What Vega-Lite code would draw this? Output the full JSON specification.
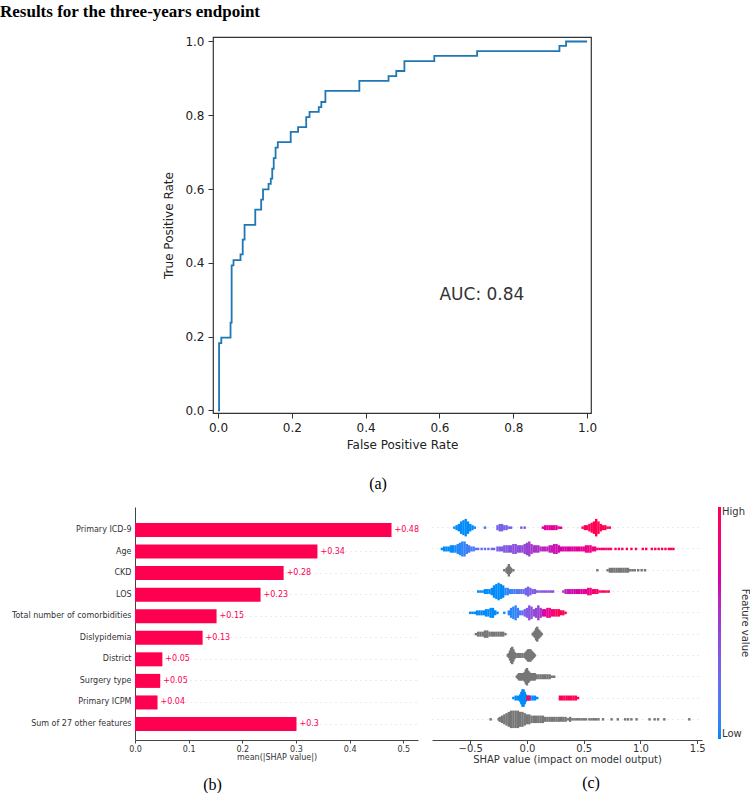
{
  "$schema": "https://vega.github.io/schema/vega-lite/v6.json",
  "padding": {"left": 0, "top": 2, "right": 0, "bottom": 0},
  "title": {"text": "Results for the three-years endpoint", "anchor": "start", "font": "Liberation Serif", "fontSize": 17, "fontWeight": "bold", "color": "#000000", "offset": 14},
  "config": {
    "font": "DejaVu Sans",
    "axis": {"labelFont": "DejaVu Sans", "titleFont": "DejaVu Sans", "titleFontWeight": "normal", "labelColor": "#222222", "titleColor": "#222222", "domainColor": "#333333", "tickColor": "#333333"},
    "legend": {"labelFont": "DejaVu Sans", "titleFont": "DejaVu Sans"}
  },
  "datasets": {
    "roc": [
      {"fpr": 0, "tpr": 0}, {"fpr": 0.003, "tpr": 0.182}, {"fpr": 0.009, "tpr": 0.197}, {"fpr": 0.034, "tpr": 0.238},
      {"fpr": 0.037, "tpr": 0.393}, {"fpr": 0.042, "tpr": 0.407}, {"fpr": 0.061, "tpr": 0.423}, {"fpr": 0.067, "tpr": 0.463},
      {"fpr": 0.072, "tpr": 0.503}, {"fpr": 0.101, "tpr": 0.544}, {"fpr": 0.117, "tpr": 0.571}, {"fpr": 0.122, "tpr": 0.599},
      {"fpr": 0.137, "tpr": 0.614}, {"fpr": 0.143, "tpr": 0.628}, {"fpr": 0.147, "tpr": 0.655}, {"fpr": 0.151, "tpr": 0.684},
      {"fpr": 0.156, "tpr": 0.712}, {"fpr": 0.162, "tpr": 0.727}, {"fpr": 0.197, "tpr": 0.755}, {"fpr": 0.217, "tpr": 0.768},
      {"fpr": 0.239, "tpr": 0.795}, {"fpr": 0.248, "tpr": 0.809}, {"fpr": 0.273, "tpr": 0.822}, {"fpr": 0.28, "tpr": 0.836},
      {"fpr": 0.291, "tpr": 0.866}, {"fpr": 0.383, "tpr": 0.893}, {"fpr": 0.462, "tpr": 0.906}, {"fpr": 0.483, "tpr": 0.92},
      {"fpr": 0.505, "tpr": 0.947}, {"fpr": 0.586, "tpr": 0.961}, {"fpr": 0.702, "tpr": 0.974}, {"fpr": 0.925, "tpr": 0.988},
      {"fpr": 0.943, "tpr": 1.0}, {"fpr": 1.0, "tpr": 1.0}
    ],
    "auc": [{"fpr": 0.6, "tpr": 0.3, "label": "AUC: 0.84"}],
    "importance": [
      {"feature": "Primary ICD-9", "meanAbs": 0.478},
      {"feature": "Age", "meanAbs": 0.34},
      {"feature": "CKD", "meanAbs": 0.277},
      {"feature": "LOS", "meanAbs": 0.234},
      {"feature": "Total number of comorbidities", "meanAbs": 0.152},
      {"feature": "Dislypidemia", "meanAbs": 0.126},
      {"feature": "District", "meanAbs": 0.051},
      {"feature": "Surgery type", "meanAbs": 0.047},
      {"feature": "Primary ICPM", "meanAbs": 0.042},
      {"feature": "Sum of 27 other features", "meanAbs": 0.301}
    ],
    "swarm": [
      {"feature": "Primary ICD-9", "shap": -0.64, "count": 1, "fval": 0},
      {"feature": "Primary ICD-9", "shap": -0.62, "count": 2, "fval": 0},
      {"feature": "Primary ICD-9", "shap": -0.6, "count": 3, "fval": 0},
      {"feature": "Primary ICD-9", "shap": -0.58, "count": 5, "fval": 0},
      {"feature": "Primary ICD-9", "shap": -0.56, "count": 6, "fval": 0},
      {"feature": "Primary ICD-9", "shap": -0.54, "count": 7, "fval": 0},
      {"feature": "Primary ICD-9", "shap": -0.52, "count": 5, "fval": 0},
      {"feature": "Primary ICD-9", "shap": -0.5, "count": 3, "fval": 0},
      {"feature": "Primary ICD-9", "shap": -0.48, "count": 2, "fval": 0},
      {"feature": "Primary ICD-9", "shap": -0.46, "count": 1, "fval": 0},
      {"feature": "Primary ICD-9", "shap": -0.37, "count": 1, "fval": 0.1},
      {"feature": "Primary ICD-9", "shap": -0.26, "count": 2, "fval": 0.3},
      {"feature": "Primary ICD-9", "shap": -0.24, "count": 3, "fval": 0.3},
      {"feature": "Primary ICD-9", "shap": -0.22, "count": 3, "fval": 0.3},
      {"feature": "Primary ICD-9", "shap": -0.2, "count": 2, "fval": 0.3},
      {"feature": "Primary ICD-9", "shap": -0.18, "count": 2, "fval": 0.3},
      {"feature": "Primary ICD-9", "shap": -0.16, "count": 1, "fval": 0.3},
      {"feature": "Primary ICD-9", "shap": -0.14, "count": 1, "fval": 0.3},
      {"feature": "Primary ICD-9", "shap": -0.05, "count": 1, "fval": 0.35},
      {"feature": "Primary ICD-9", "shap": -0.02, "count": 1, "fval": 0.35},
      {"feature": "Primary ICD-9", "shap": 0.14, "count": 1, "fval": 0.75},
      {"feature": "Primary ICD-9", "shap": 0.16, "count": 2, "fval": 0.75},
      {"feature": "Primary ICD-9", "shap": 0.18, "count": 2, "fval": 0.75},
      {"feature": "Primary ICD-9", "shap": 0.2, "count": 2, "fval": 0.75},
      {"feature": "Primary ICD-9", "shap": 0.22, "count": 2, "fval": 0.75},
      {"feature": "Primary ICD-9", "shap": 0.24, "count": 2, "fval": 0.75},
      {"feature": "Primary ICD-9", "shap": 0.26, "count": 2, "fval": 0.75},
      {"feature": "Primary ICD-9", "shap": 0.28, "count": 1, "fval": 0.75},
      {"feature": "Primary ICD-9", "shap": 0.3, "count": 1, "fval": 0.75},
      {"feature": "Primary ICD-9", "shap": 0.49, "count": 1, "fval": 1},
      {"feature": "Primary ICD-9", "shap": 0.51, "count": 2, "fval": 1},
      {"feature": "Primary ICD-9", "shap": 0.53, "count": 2, "fval": 1},
      {"feature": "Primary ICD-9", "shap": 0.55, "count": 3, "fval": 1},
      {"feature": "Primary ICD-9", "shap": 0.57, "count": 4, "fval": 1},
      {"feature": "Primary ICD-9", "shap": 0.59, "count": 5, "fval": 1},
      {"feature": "Primary ICD-9", "shap": 0.61, "count": 7, "fval": 1},
      {"feature": "Primary ICD-9", "shap": 0.63, "count": 5, "fval": 1},
      {"feature": "Primary ICD-9", "shap": 0.65, "count": 3, "fval": 1},
      {"feature": "Primary ICD-9", "shap": 0.67, "count": 2, "fval": 1},
      {"feature": "Primary ICD-9", "shap": 0.69, "count": 2, "fval": 1},
      {"feature": "Primary ICD-9", "shap": 0.71, "count": 1, "fval": 1},
      {"feature": "Primary ICD-9", "shap": 0.73, "count": 1, "fval": 1},

      {"feature": "Age", "shap": -0.75, "count": 1, "fval": 0},
      {"feature": "Age", "shap": -0.73, "count": 2, "fval": 0},
      {"feature": "Age", "shap": -0.71, "count": 2, "fval": 0},
      {"feature": "Age", "shap": -0.69, "count": 2, "fval": 0},
      {"feature": "Age", "shap": -0.67, "count": 3, "fval": 0},
      {"feature": "Age", "shap": -0.65, "count": 3, "fval": 0},
      {"feature": "Age", "shap": -0.63, "count": 3, "fval": 0.02},
      {"feature": "Age", "shap": -0.61, "count": 4, "fval": 0.03},
      {"feature": "Age", "shap": -0.59, "count": 5, "fval": 0.05},
      {"feature": "Age", "shap": -0.57, "count": 6, "fval": 0.05},
      {"feature": "Age", "shap": -0.55, "count": 6, "fval": 0.07},
      {"feature": "Age", "shap": -0.53, "count": 4, "fval": 0.1},
      {"feature": "Age", "shap": -0.51, "count": 3, "fval": 0.12},
      {"feature": "Age", "shap": -0.49, "count": 2, "fval": 0.15},
      {"feature": "Age", "shap": -0.47, "count": 2, "fval": 0.15},
      {"feature": "Age", "shap": -0.45, "count": 1, "fval": 0.18},
      {"feature": "Age", "shap": -0.43, "count": 1, "fval": 0.2},
      {"feature": "Age", "shap": -0.4, "count": 1, "fval": 0.22},
      {"feature": "Age", "shap": -0.37, "count": 1, "fval": 0.25},
      {"feature": "Age", "shap": -0.34, "count": 1, "fval": 0.25},
      {"feature": "Age", "shap": -0.31, "count": 1, "fval": 0.28},
      {"feature": "Age", "shap": -0.29, "count": 1, "fval": 0.3},
      {"feature": "Age", "shap": -0.26, "count": 2, "fval": 0.32},
      {"feature": "Age", "shap": -0.24, "count": 2, "fval": 0.33},
      {"feature": "Age", "shap": -0.22, "count": 2, "fval": 0.35},
      {"feature": "Age", "shap": -0.2, "count": 3, "fval": 0.36},
      {"feature": "Age", "shap": -0.18, "count": 3, "fval": 0.37},
      {"feature": "Age", "shap": -0.16, "count": 3, "fval": 0.38},
      {"feature": "Age", "shap": -0.14, "count": 3, "fval": 0.39},
      {"feature": "Age", "shap": -0.12, "count": 4, "fval": 0.4},
      {"feature": "Age", "shap": -0.1, "count": 4, "fval": 0.41},
      {"feature": "Age", "shap": -0.08, "count": 3, "fval": 0.42},
      {"feature": "Age", "shap": -0.06, "count": 3, "fval": 0.43},
      {"feature": "Age", "shap": -0.04, "count": 3, "fval": 0.44},
      {"feature": "Age", "shap": -0.02, "count": 4, "fval": 0.46},
      {"feature": "Age", "shap": 0.0, "count": 5, "fval": 0.48},
      {"feature": "Age", "shap": 0.02, "count": 6, "fval": 0.5},
      {"feature": "Age", "shap": 0.04, "count": 4, "fval": 0.52},
      {"feature": "Age", "shap": 0.06, "count": 3, "fval": 0.54},
      {"feature": "Age", "shap": 0.08, "count": 3, "fval": 0.55},
      {"feature": "Age", "shap": 0.1, "count": 3, "fval": 0.56},
      {"feature": "Age", "shap": 0.12, "count": 2, "fval": 0.57},
      {"feature": "Age", "shap": 0.14, "count": 2, "fval": 0.58},
      {"feature": "Age", "shap": 0.16, "count": 2, "fval": 0.6},
      {"feature": "Age", "shap": 0.18, "count": 2, "fval": 0.6},
      {"feature": "Age", "shap": 0.2, "count": 3, "fval": 0.62},
      {"feature": "Age", "shap": 0.22, "count": 3, "fval": 0.63},
      {"feature": "Age", "shap": 0.24, "count": 4, "fval": 0.64},
      {"feature": "Age", "shap": 0.26, "count": 4, "fval": 0.65},
      {"feature": "Age", "shap": 0.28, "count": 3, "fval": 0.66},
      {"feature": "Age", "shap": 0.3, "count": 2, "fval": 0.67},
      {"feature": "Age", "shap": 0.32, "count": 2, "fval": 0.68},
      {"feature": "Age", "shap": 0.34, "count": 2, "fval": 0.69},
      {"feature": "Age", "shap": 0.36, "count": 2, "fval": 0.7},
      {"feature": "Age", "shap": 0.38, "count": 2, "fval": 0.71},
      {"feature": "Age", "shap": 0.4, "count": 2, "fval": 0.72},
      {"feature": "Age", "shap": 0.42, "count": 2, "fval": 0.73},
      {"feature": "Age", "shap": 0.44, "count": 2, "fval": 0.74},
      {"feature": "Age", "shap": 0.46, "count": 2, "fval": 0.76},
      {"feature": "Age", "shap": 0.48, "count": 2, "fval": 0.77},
      {"feature": "Age", "shap": 0.5, "count": 2, "fval": 0.78},
      {"feature": "Age", "shap": 0.52, "count": 3, "fval": 0.8},
      {"feature": "Age", "shap": 0.54, "count": 3, "fval": 0.8},
      {"feature": "Age", "shap": 0.56, "count": 3, "fval": 0.82},
      {"feature": "Age", "shap": 0.58, "count": 2, "fval": 0.84},
      {"feature": "Age", "shap": 0.6, "count": 2, "fval": 0.85},
      {"feature": "Age", "shap": 0.62, "count": 1, "fval": 0.86},
      {"feature": "Age", "shap": 0.64, "count": 1, "fval": 0.87},
      {"feature": "Age", "shap": 0.66, "count": 1, "fval": 0.88},
      {"feature": "Age", "shap": 0.68, "count": 1, "fval": 0.9},
      {"feature": "Age", "shap": 0.7, "count": 1, "fval": 0.9},
      {"feature": "Age", "shap": 0.72, "count": 1, "fval": 0.92},
      {"feature": "Age", "shap": 0.74, "count": 1, "fval": 0.93},
      {"feature": "Age", "shap": 0.78, "count": 1, "fval": 0.95},
      {"feature": "Age", "shap": 0.81, "count": 1, "fval": 0.95},
      {"feature": "Age", "shap": 0.84, "count": 1, "fval": 0.96},
      {"feature": "Age", "shap": 0.88, "count": 1, "fval": 0.97},
      {"feature": "Age", "shap": 0.92, "count": 1, "fval": 0.97},
      {"feature": "Age", "shap": 0.96, "count": 1, "fval": 0.98},
      {"feature": "Age", "shap": 1.02, "count": 1, "fval": 0.98},
      {"feature": "Age", "shap": 1.05, "count": 1, "fval": 0.99},
      {"feature": "Age", "shap": 1.1, "count": 1, "fval": 0.99},
      {"feature": "Age", "shap": 1.13, "count": 1, "fval": 1},
      {"feature": "Age", "shap": 1.16, "count": 1, "fval": 1},
      {"feature": "Age", "shap": 1.19, "count": 1, "fval": 1},
      {"feature": "Age", "shap": 1.22, "count": 1, "fval": 1},
      {"feature": "Age", "shap": 1.25, "count": 1, "fval": 1},
      {"feature": "Age", "shap": 1.27, "count": 1, "fval": 1},
      {"feature": "Age", "shap": 1.29, "count": 1, "fval": 1},

      {"feature": "CKD", "shap": -0.2, "count": 1},
      {"feature": "CKD", "shap": -0.18, "count": 2},
      {"feature": "CKD", "shap": -0.17, "count": 3},
      {"feature": "CKD", "shap": -0.16, "count": 5},
      {"feature": "CKD", "shap": -0.15, "count": 3},
      {"feature": "CKD", "shap": -0.14, "count": 2},
      {"feature": "CKD", "shap": -0.12, "count": 1},
      {"feature": "CKD", "shap": 0.62, "count": 1},
      {"feature": "CKD", "shap": 0.71, "count": 1},
      {"feature": "CKD", "shap": 0.73, "count": 2},
      {"feature": "CKD", "shap": 0.75, "count": 2},
      {"feature": "CKD", "shap": 0.77, "count": 2},
      {"feature": "CKD", "shap": 0.79, "count": 2},
      {"feature": "CKD", "shap": 0.81, "count": 2},
      {"feature": "CKD", "shap": 0.83, "count": 2},
      {"feature": "CKD", "shap": 0.85, "count": 2},
      {"feature": "CKD", "shap": 0.87, "count": 2},
      {"feature": "CKD", "shap": 0.89, "count": 2},
      {"feature": "CKD", "shap": 0.91, "count": 1},
      {"feature": "CKD", "shap": 0.93, "count": 1},
      {"feature": "CKD", "shap": 0.95, "count": 1},
      {"feature": "CKD", "shap": 0.98, "count": 1},
      {"feature": "CKD", "shap": 1.01, "count": 1},
      {"feature": "CKD", "shap": 1.04, "count": 1},

      {"feature": "LOS", "shap": -0.43, "count": 1, "fval": 0},
      {"feature": "LOS", "shap": -0.41, "count": 1, "fval": 0},
      {"feature": "LOS", "shap": -0.39, "count": 1, "fval": 0},
      {"feature": "LOS", "shap": -0.37, "count": 2, "fval": 0},
      {"feature": "LOS", "shap": -0.35, "count": 2, "fval": 0},
      {"feature": "LOS", "shap": -0.33, "count": 2, "fval": 0},
      {"feature": "LOS", "shap": -0.31, "count": 3, "fval": 0},
      {"feature": "LOS", "shap": -0.29, "count": 5, "fval": 0},
      {"feature": "LOS", "shap": -0.27, "count": 6, "fval": 0},
      {"feature": "LOS", "shap": -0.25, "count": 7, "fval": 0},
      {"feature": "LOS", "shap": -0.23, "count": 6, "fval": 0},
      {"feature": "LOS", "shap": -0.21, "count": 5, "fval": 0},
      {"feature": "LOS", "shap": -0.19, "count": 3, "fval": 0.05},
      {"feature": "LOS", "shap": -0.17, "count": 3, "fval": 0.05},
      {"feature": "LOS", "shap": -0.15, "count": 2, "fval": 0.08},
      {"feature": "LOS", "shap": -0.13, "count": 2, "fval": 0.1},
      {"feature": "LOS", "shap": -0.11, "count": 2, "fval": 0.12},
      {"feature": "LOS", "shap": -0.09, "count": 2, "fval": 0.15},
      {"feature": "LOS", "shap": -0.07, "count": 2, "fval": 0.2},
      {"feature": "LOS", "shap": -0.05, "count": 2, "fval": 0.22},
      {"feature": "LOS", "shap": -0.03, "count": 2, "fval": 0.25},
      {"feature": "LOS", "shap": -0.01, "count": 3, "fval": 0.28},
      {"feature": "LOS", "shap": 0.01, "count": 4, "fval": 0.3},
      {"feature": "LOS", "shap": 0.03, "count": 3, "fval": 0.32},
      {"feature": "LOS", "shap": 0.05, "count": 2, "fval": 0.34},
      {"feature": "LOS", "shap": 0.07, "count": 2, "fval": 0.35},
      {"feature": "LOS", "shap": 0.09, "count": 1, "fval": 0.36},
      {"feature": "LOS", "shap": 0.11, "count": 1, "fval": 0.37},
      {"feature": "LOS", "shap": 0.13, "count": 1, "fval": 0.38},
      {"feature": "LOS", "shap": 0.15, "count": 1, "fval": 0.38},
      {"feature": "LOS", "shap": 0.17, "count": 1, "fval": 0.4},
      {"feature": "LOS", "shap": 0.19, "count": 1, "fval": 0.4},
      {"feature": "LOS", "shap": 0.21, "count": 1, "fval": 0.42},
      {"feature": "LOS", "shap": 0.23, "count": 1, "fval": 0.43},
      {"feature": "LOS", "shap": 0.32, "count": 1, "fval": 0.55},
      {"feature": "LOS", "shap": 0.34, "count": 2, "fval": 0.6},
      {"feature": "LOS", "shap": 0.36, "count": 2, "fval": 0.62},
      {"feature": "LOS", "shap": 0.38, "count": 2, "fval": 0.64},
      {"feature": "LOS", "shap": 0.4, "count": 2, "fval": 0.65},
      {"feature": "LOS", "shap": 0.42, "count": 2, "fval": 0.66},
      {"feature": "LOS", "shap": 0.44, "count": 2, "fval": 0.68},
      {"feature": "LOS", "shap": 0.46, "count": 2, "fval": 0.7},
      {"feature": "LOS", "shap": 0.48, "count": 2, "fval": 0.72},
      {"feature": "LOS", "shap": 0.5, "count": 2, "fval": 0.75},
      {"feature": "LOS", "shap": 0.52, "count": 2, "fval": 0.78},
      {"feature": "LOS", "shap": 0.54, "count": 3, "fval": 0.82},
      {"feature": "LOS", "shap": 0.56, "count": 3, "fval": 0.85},
      {"feature": "LOS", "shap": 0.58, "count": 2, "fval": 0.9},
      {"feature": "LOS", "shap": 0.6, "count": 2, "fval": 0.92},
      {"feature": "LOS", "shap": 0.62, "count": 2, "fval": 0.94},
      {"feature": "LOS", "shap": 0.64, "count": 1, "fval": 0.96},
      {"feature": "LOS", "shap": 0.66, "count": 1, "fval": 0.97},
      {"feature": "LOS", "shap": 0.68, "count": 1, "fval": 0.98},
      {"feature": "LOS", "shap": 0.7, "count": 1, "fval": 1},
      {"feature": "LOS", "shap": 0.72, "count": 1, "fval": 1},

      {"feature": "Total number of comorbidities", "shap": -0.5, "count": 1, "fval": 0},
      {"feature": "Total number of comorbidities", "shap": -0.48, "count": 1, "fval": 0},
      {"feature": "Total number of comorbidities", "shap": -0.46, "count": 1, "fval": 0},
      {"feature": "Total number of comorbidities", "shap": -0.44, "count": 2, "fval": 0},
      {"feature": "Total number of comorbidities", "shap": -0.42, "count": 2, "fval": 0},
      {"feature": "Total number of comorbidities", "shap": -0.4, "count": 2, "fval": 0},
      {"feature": "Total number of comorbidities", "shap": -0.38, "count": 2, "fval": 0},
      {"feature": "Total number of comorbidities", "shap": -0.36, "count": 3, "fval": 0},
      {"feature": "Total number of comorbidities", "shap": -0.34, "count": 3, "fval": 0},
      {"feature": "Total number of comorbidities", "shap": -0.32, "count": 4, "fval": 0},
      {"feature": "Total number of comorbidities", "shap": -0.3, "count": 4, "fval": 0},
      {"feature": "Total number of comorbidities", "shap": -0.28, "count": 2, "fval": 0},
      {"feature": "Total number of comorbidities", "shap": -0.26, "count": 1, "fval": 0},
      {"feature": "Total number of comorbidities", "shap": -0.2, "count": 1, "fval": 0.02},
      {"feature": "Total number of comorbidities", "shap": -0.16, "count": 2, "fval": 0.05},
      {"feature": "Total number of comorbidities", "shap": -0.14, "count": 4, "fval": 0.05},
      {"feature": "Total number of comorbidities", "shap": -0.12, "count": 5, "fval": 0.05},
      {"feature": "Total number of comorbidities", "shap": -0.1, "count": 6, "fval": 0.08},
      {"feature": "Total number of comorbidities", "shap": -0.08, "count": 4, "fval": 0.1},
      {"feature": "Total number of comorbidities", "shap": -0.06, "count": 2, "fval": 0.15},
      {"feature": "Total number of comorbidities", "shap": -0.04, "count": 2, "fval": 0.22},
      {"feature": "Total number of comorbidities", "shap": -0.02, "count": 3, "fval": 0.3},
      {"feature": "Total number of comorbidities", "shap": 0.0, "count": 4, "fval": 0.36},
      {"feature": "Total number of comorbidities", "shap": 0.02, "count": 6, "fval": 0.4},
      {"feature": "Total number of comorbidities", "shap": 0.04, "count": 5, "fval": 0.42},
      {"feature": "Total number of comorbidities", "shap": 0.06, "count": 3, "fval": 0.44},
      {"feature": "Total number of comorbidities", "shap": 0.08, "count": 4, "fval": 0.46},
      {"feature": "Total number of comorbidities", "shap": 0.1, "count": 6, "fval": 0.48},
      {"feature": "Total number of comorbidities", "shap": 0.12, "count": 4, "fval": 0.55},
      {"feature": "Total number of comorbidities", "shap": 0.14, "count": 3, "fval": 0.65},
      {"feature": "Total number of comorbidities", "shap": 0.16, "count": 3, "fval": 0.72},
      {"feature": "Total number of comorbidities", "shap": 0.18, "count": 4, "fval": 0.78},
      {"feature": "Total number of comorbidities", "shap": 0.2, "count": 4, "fval": 0.8},
      {"feature": "Total number of comorbidities", "shap": 0.22, "count": 3, "fval": 0.85},
      {"feature": "Total number of comorbidities", "shap": 0.24, "count": 3, "fval": 0.92},
      {"feature": "Total number of comorbidities", "shap": 0.26, "count": 3, "fval": 0.96},
      {"feature": "Total number of comorbidities", "shap": 0.28, "count": 3, "fval": 1},
      {"feature": "Total number of comorbidities", "shap": 0.3, "count": 2, "fval": 1},
      {"feature": "Total number of comorbidities", "shap": 0.32, "count": 2, "fval": 1},
      {"feature": "Total number of comorbidities", "shap": 0.34, "count": 1, "fval": 1},

      {"feature": "Dislypidemia", "shap": -0.45, "count": 1},
      {"feature": "Dislypidemia", "shap": -0.43, "count": 2},
      {"feature": "Dislypidemia", "shap": -0.41, "count": 2},
      {"feature": "Dislypidemia", "shap": -0.39, "count": 2},
      {"feature": "Dislypidemia", "shap": -0.37, "count": 3},
      {"feature": "Dislypidemia", "shap": -0.35, "count": 3},
      {"feature": "Dislypidemia", "shap": -0.33, "count": 2},
      {"feature": "Dislypidemia", "shap": -0.31, "count": 2},
      {"feature": "Dislypidemia", "shap": -0.29, "count": 2},
      {"feature": "Dislypidemia", "shap": -0.27, "count": 2},
      {"feature": "Dislypidemia", "shap": -0.25, "count": 2},
      {"feature": "Dislypidemia", "shap": -0.23, "count": 2},
      {"feature": "Dislypidemia", "shap": -0.21, "count": 2},
      {"feature": "Dislypidemia", "shap": -0.19, "count": 1},
      {"feature": "Dislypidemia", "shap": 0.05, "count": 1},
      {"feature": "Dislypidemia", "shap": 0.06, "count": 2},
      {"feature": "Dislypidemia", "shap": 0.07, "count": 3},
      {"feature": "Dislypidemia", "shap": 0.08, "count": 5},
      {"feature": "Dislypidemia", "shap": 0.09, "count": 6},
      {"feature": "Dislypidemia", "shap": 0.1, "count": 4},
      {"feature": "Dislypidemia", "shap": 0.11, "count": 3},
      {"feature": "Dislypidemia", "shap": 0.12, "count": 2},
      {"feature": "Dislypidemia", "shap": 0.13, "count": 1},

      {"feature": "District", "shap": -0.17, "count": 1},
      {"feature": "District", "shap": -0.16, "count": 2},
      {"feature": "District", "shap": -0.15, "count": 4},
      {"feature": "District", "shap": -0.14, "count": 6},
      {"feature": "District", "shap": -0.13, "count": 7},
      {"feature": "District", "shap": -0.12, "count": 5},
      {"feature": "District", "shap": -0.11, "count": 3},
      {"feature": "District", "shap": -0.1, "count": 2},
      {"feature": "District", "shap": -0.08, "count": 2},
      {"feature": "District", "shap": -0.06, "count": 2},
      {"feature": "District", "shap": -0.04, "count": 2},
      {"feature": "District", "shap": -0.02, "count": 2},
      {"feature": "District", "shap": -0.01, "count": 3},
      {"feature": "District", "shap": 0.0, "count": 4},
      {"feature": "District", "shap": 0.01, "count": 5},
      {"feature": "District", "shap": 0.02, "count": 5},
      {"feature": "District", "shap": 0.03, "count": 5},
      {"feature": "District", "shap": 0.04, "count": 4},
      {"feature": "District", "shap": 0.05, "count": 3},
      {"feature": "District", "shap": 0.06, "count": 2},
      {"feature": "District", "shap": 0.07, "count": 1},

      {"feature": "Surgery type", "shap": -0.09, "count": 1},
      {"feature": "Surgery type", "shap": -0.08, "count": 2},
      {"feature": "Surgery type", "shap": -0.07, "count": 3},
      {"feature": "Surgery type", "shap": -0.06, "count": 3},
      {"feature": "Surgery type", "shap": -0.05, "count": 3},
      {"feature": "Surgery type", "shap": -0.04, "count": 3},
      {"feature": "Surgery type", "shap": -0.03, "count": 3},
      {"feature": "Surgery type", "shap": -0.02, "count": 4},
      {"feature": "Surgery type", "shap": -0.01, "count": 6},
      {"feature": "Surgery type", "shap": 0.0, "count": 7},
      {"feature": "Surgery type", "shap": 0.01, "count": 5},
      {"feature": "Surgery type", "shap": 0.02, "count": 4},
      {"feature": "Surgery type", "shap": 0.03, "count": 3},
      {"feature": "Surgery type", "shap": 0.04, "count": 3},
      {"feature": "Surgery type", "shap": 0.05, "count": 3},
      {"feature": "Surgery type", "shap": 0.06, "count": 3},
      {"feature": "Surgery type", "shap": 0.07, "count": 3},
      {"feature": "Surgery type", "shap": 0.08, "count": 2},
      {"feature": "Surgery type", "shap": 0.1, "count": 2},
      {"feature": "Surgery type", "shap": 0.12, "count": 2},
      {"feature": "Surgery type", "shap": 0.14, "count": 2},
      {"feature": "Surgery type", "shap": 0.16, "count": 2},
      {"feature": "Surgery type", "shap": 0.18, "count": 2},
      {"feature": "Surgery type", "shap": 0.2, "count": 2},
      {"feature": "Surgery type", "shap": 0.22, "count": 1},
      {"feature": "Surgery type", "shap": 0.24, "count": 1},

      {"feature": "Primary ICPM", "shap": -0.12, "count": 1, "fval": 0},
      {"feature": "Primary ICPM", "shap": -0.1, "count": 2, "fval": 0},
      {"feature": "Primary ICPM", "shap": -0.08, "count": 2, "fval": 0},
      {"feature": "Primary ICPM", "shap": -0.06, "count": 3, "fval": 0},
      {"feature": "Primary ICPM", "shap": -0.05, "count": 5, "fval": 0},
      {"feature": "Primary ICPM", "shap": -0.04, "count": 7, "fval": 0},
      {"feature": "Primary ICPM", "shap": -0.03, "count": 7, "fval": 0},
      {"feature": "Primary ICPM", "shap": -0.02, "count": 5, "fval": 0},
      {"feature": "Primary ICPM", "shap": -0.01, "count": 3, "fval": 0},
      {"feature": "Primary ICPM", "shap": 0.01, "count": 2, "fval": 0},
      {"feature": "Primary ICPM", "shap": 0.03, "count": 2, "fval": 0},
      {"feature": "Primary ICPM", "shap": 0.05, "count": 2, "fval": 0},
      {"feature": "Primary ICPM", "shap": 0.07, "count": 2, "fval": 0},
      {"feature": "Primary ICPM", "shap": 0.09, "count": 1, "fval": 0},
      {"feature": "Primary ICPM", "shap": 0.005, "count": 2, "fval": 1},
      {"feature": "Primary ICPM", "shap": 0.02, "count": 2, "fval": 0.85},
      {"feature": "Primary ICPM", "shap": 0.29, "count": 2, "fval": 1},
      {"feature": "Primary ICPM", "shap": 0.31, "count": 2, "fval": 1},
      {"feature": "Primary ICPM", "shap": 0.33, "count": 2, "fval": 1},
      {"feature": "Primary ICPM", "shap": 0.35, "count": 2, "fval": 1},
      {"feature": "Primary ICPM", "shap": 0.37, "count": 2, "fval": 1},
      {"feature": "Primary ICPM", "shap": 0.39, "count": 2, "fval": 1},
      {"feature": "Primary ICPM", "shap": 0.41, "count": 2, "fval": 1},
      {"feature": "Primary ICPM", "shap": 0.43, "count": 2, "fval": 1},
      {"feature": "Primary ICPM", "shap": 0.45, "count": 1, "fval": 1},

      {"feature": "Sum of 27 other features", "shap": -0.32, "count": 1},
      {"feature": "Sum of 27 other features", "shap": -0.25, "count": 1},
      {"feature": "Sum of 27 other features", "shap": -0.24, "count": 2},
      {"feature": "Sum of 27 other features", "shap": -0.22, "count": 3},
      {"feature": "Sum of 27 other features", "shap": -0.2, "count": 4},
      {"feature": "Sum of 27 other features", "shap": -0.18, "count": 5},
      {"feature": "Sum of 27 other features", "shap": -0.16, "count": 6},
      {"feature": "Sum of 27 other features", "shap": -0.14, "count": 7},
      {"feature": "Sum of 27 other features", "shap": -0.12, "count": 7},
      {"feature": "Sum of 27 other features", "shap": -0.1, "count": 7},
      {"feature": "Sum of 27 other features", "shap": -0.08, "count": 7},
      {"feature": "Sum of 27 other features", "shap": -0.06, "count": 6},
      {"feature": "Sum of 27 other features", "shap": -0.04, "count": 6},
      {"feature": "Sum of 27 other features", "shap": -0.02, "count": 5},
      {"feature": "Sum of 27 other features", "shap": 0.0, "count": 4},
      {"feature": "Sum of 27 other features", "shap": 0.02, "count": 4},
      {"feature": "Sum of 27 other features", "shap": 0.04, "count": 3},
      {"feature": "Sum of 27 other features", "shap": 0.06, "count": 3},
      {"feature": "Sum of 27 other features", "shap": 0.08, "count": 3},
      {"feature": "Sum of 27 other features", "shap": 0.1, "count": 3},
      {"feature": "Sum of 27 other features", "shap": 0.12, "count": 3},
      {"feature": "Sum of 27 other features", "shap": 0.14, "count": 3},
      {"feature": "Sum of 27 other features", "shap": 0.16, "count": 2},
      {"feature": "Sum of 27 other features", "shap": 0.18, "count": 2},
      {"feature": "Sum of 27 other features", "shap": 0.2, "count": 2},
      {"feature": "Sum of 27 other features", "shap": 0.22, "count": 2},
      {"feature": "Sum of 27 other features", "shap": 0.24, "count": 2},
      {"feature": "Sum of 27 other features", "shap": 0.26, "count": 2},
      {"feature": "Sum of 27 other features", "shap": 0.28, "count": 2},
      {"feature": "Sum of 27 other features", "shap": 0.3, "count": 2},
      {"feature": "Sum of 27 other features", "shap": 0.32, "count": 2},
      {"feature": "Sum of 27 other features", "shap": 0.34, "count": 2},
      {"feature": "Sum of 27 other features", "shap": 0.36, "count": 1},
      {"feature": "Sum of 27 other features", "shap": 0.38, "count": 2},
      {"feature": "Sum of 27 other features", "shap": 0.4, "count": 1},
      {"feature": "Sum of 27 other features", "shap": 0.42, "count": 1},
      {"feature": "Sum of 27 other features", "shap": 0.44, "count": 1},
      {"feature": "Sum of 27 other features", "shap": 0.46, "count": 1},
      {"feature": "Sum of 27 other features", "shap": 0.48, "count": 1},
      {"feature": "Sum of 27 other features", "shap": 0.5, "count": 1},
      {"feature": "Sum of 27 other features", "shap": 0.52, "count": 1},
      {"feature": "Sum of 27 other features", "shap": 0.55, "count": 1},
      {"feature": "Sum of 27 other features", "shap": 0.57, "count": 1},
      {"feature": "Sum of 27 other features", "shap": 0.59, "count": 1},
      {"feature": "Sum of 27 other features", "shap": 0.61, "count": 1},
      {"feature": "Sum of 27 other features", "shap": 0.63, "count": 1},
      {"feature": "Sum of 27 other features", "shap": 0.67, "count": 1},
      {"feature": "Sum of 27 other features", "shap": 0.745, "count": 1},
      {"feature": "Sum of 27 other features", "shap": 0.8, "count": 1},
      {"feature": "Sum of 27 other features", "shap": 0.865, "count": 1},
      {"feature": "Sum of 27 other features", "shap": 0.89, "count": 1},
      {"feature": "Sum of 27 other features", "shap": 0.92, "count": 1},
      {"feature": "Sum of 27 other features", "shap": 0.965, "count": 1},
      {"feature": "Sum of 27 other features", "shap": 1.08, "count": 1},
      {"feature": "Sum of 27 other features", "shap": 1.125, "count": 1},
      {"feature": "Sum of 27 other features", "shap": 1.155, "count": 1},
      {"feature": "Sum of 27 other features", "shap": 1.21, "count": 1},
      {"feature": "Sum of 27 other features", "shap": 1.43, "count": 1}
    ]
  },
  "spacing": 13,
  "resolve": {"scale": {"color": "independent", "size": "independent"}, "legend": {"color": "independent", "size": "independent"}},
  "vconcat": [
    {
      "spacing": 10,
      "hconcat": [
        {
          "width": 17,
          "height": 1,
          "view": {"stroke": null},
          "data": {"values": []},
          "mark": {"type": "point", "opacity": 0}
        },
        {
          "width": 378,
          "height": 376,
          "view": {"stroke": "#333333", "strokeWidth": 1.2},
          "title": {"text": "(a)", "orient": "bottom", "anchor": "middle", "frame": "group", "dx": -24, "font": "Liberation Serif", "fontSize": 16, "fontWeight": "normal", "color": "#000000", "offset": 26},
          "layer": [
            {
              "data": {"name": "roc"},
              "mark": {"type": "line", "interpolate": "step-after", "color": "#1f77b4", "strokeWidth": 1.8},
              "encoding": {
                "x": {"field": "fpr", "type": "quantitative", "scale": {"domain": [-0.0135, 1.0105], "nice": false, "zero": false},
                      "axis": {"title": "False Positive Rate", "values": [0, 0.2, 0.4, 0.6, 0.8, 1.0], "format": ".1f", "grid": false, "domain": false, "labelFontSize": 12, "titleFontSize": 12, "tickSize": 5, "labelPadding": 4, "titlePadding": 6, "labelFlush": false}},
                "y": {"field": "tpr", "type": "quantitative", "scale": {"domain": [-0.0073, 1.0122], "nice": false, "zero": false},
                      "axis": {"title": "True Positive Rate", "values": [0, 0.2, 0.4, 0.6, 0.8, 1.0], "format": ".1f", "grid": false, "domain": false, "labelFontSize": 12, "titleFontSize": 12, "tickSize": 5, "labelPadding": 4, "titlePadding": 9, "labelFlush": false}}
              }
            },
            {
              "data": {"name": "auc"},
              "mark": {"type": "text", "align": "left", "baseline": "alphabetic", "fontSize": 17, "color": "#333333"},
              "encoding": {
                "x": {"field": "fpr", "type": "quantitative"},
                "y": {"field": "tpr", "type": "quantitative"},
                "text": {"field": "label"}
              }
            }
          ]
        }
      ]
    },
    {
      "spacing": 12,
      "resolve": {"scale": {"color": "independent", "size": "independent"}, "legend": {"color": "independent", "size": "independent"}},
      "hconcat": [
        {
          "width": 283,
          "height": 233,
          "view": {"stroke": null},
          "data": {"name": "importance"},
          "title": {"text": "(b)", "orient": "bottom", "anchor": "middle", "frame": "bounds", "font": "Liberation Serif", "fontSize": 16, "fontWeight": "normal", "color": "#000000", "offset": 16, "dx": 3},
          "encoding": {
            "y": {"field": "feature", "type": "nominal", "sort": null,
                  "scale": {"paddingInner": 0.35, "paddingOuter": 0.578, "align": 0.64},
                  "axis": {"title": null, "ticks": false, "labelFontSize": 8, "labelColor": "#333333", "labelPadding": 4, "minExtent": 135, "grid": true, "gridDash": [1, 4], "gridColor": "#cccccc", "gridWidth": 0.8, "domainColor": "#444444"}},
            "x": {"field": "meanAbs", "type": "quantitative", "scale": {"domain": [0, 0.5274], "nice": false, "zero": false},
                  "axis": {"title": "mean(|SHAP value|)", "values": [0, 0.1, 0.2, 0.3, 0.4, 0.5], "format": ".1f", "grid": false, "labelFontSize": 8, "titleFontSize": 8, "labelColor": "#333333", "titleColor": "#333333", "tickSize": 3, "labelPadding": 2, "titlePadding": 0, "domainColor": "#444444", "tickColor": "#444444", "labelFlush": false}}
          },
          "layer": [
            {"mark": {"type": "bar", "color": "#ff0051"}},
            {"mark": {"type": "text", "align": "left", "baseline": "middle", "dx": 3, "fontSize": 8, "color": "#ff0051"},
             "encoding": {"text": {"field": "meanAbs", "type": "quantitative", "format": "+.2~f"}}}
          ]
        },
        {
          "width": 270,
          "height": 233,
          "view": {"stroke": null},
          "title": {"text": "(c)", "orient": "bottom", "anchor": "middle", "frame": "bounds", "font": "Liberation Serif", "fontSize": 16, "fontWeight": "normal", "color": "#000000", "offset": 10},
          "layer": [
            {
              "data": {"values": [{"shap": 0}]},
              "mark": {"type": "rule", "color": "#999999", "strokeWidth": 1},
              "encoding": {"x": {"field": "shap", "type": "quantitative"}}
            },
            {
              "data": {"name": "swarm"},
              "transform": [{"filter": "datum.fval == null"}],
              "mark": {"type": "tick", "thickness": 2.4, "color": "#777777", "opacity": 1},
              "encoding": {
                "x": {"field": "shap", "type": "quantitative"},
                "y": {"field": "feature", "type": "nominal"},
                "size": {"field": "count", "type": "quantitative", "scale": {"domain": [0, 8], "range": [0, 20]}, "legend": null}
              }
            },
            {
              "data": {"name": "swarm"},
              "transform": [{"filter": "datum.fval != null"}],
              "mark": {"type": "tick", "thickness": 2.4, "opacity": 1},
              "encoding": {
                "x": {"field": "shap", "type": "quantitative"},
                "y": {"field": "feature", "type": "nominal"},
                "size": {"field": "count", "type": "quantitative", "scale": {"domain": [0, 8], "range": [0, 20]}, "legend": null},
                "color": {"field": "fval", "type": "quantitative",
                          "scale": {"domain": [0, 0.5, 1], "range": ["#008bfb", "#9a3ccf", "#ff0052"]},
                          "legend": {"title": "Feature value", "orient": "right", "offset": 16, "direction": "vertical", "gradientLength": 232, "gradientThickness": 3, "gradientStrokeWidth": 0, "values": [0, 1], "labelExpr": "datum.value >= 1 ? 'High' : 'Low'", "labelFontSize": 10, "labelColor": "#333333", "labelOffset": 1, "labelBaseline": "middle", "titleOrient": "right", "titleAngle": 270, "titleAlign": "center", "titleBaseline": "top", "titleFontSize": 10, "titleFontWeight": "normal", "titleColor": "#333333", "titleAnchor": "middle", "titlePadding": 5, "padding": 0}}
              }
            }
          ],
          "encoding": {
            "x": {"field": "shap", "type": "quantitative", "scale": {"domain": [-0.837, 1.542], "nice": false, "zero": false},
                  "axis": {"title": "SHAP value (impact on model output)", "values": [-0.5, 0, 0.5, 1.0, 1.5], "format": ".1f", "grid": false, "labelFontSize": 10, "titleFontSize": 10, "labelColor": "#333333", "titleColor": "#333333", "tickSize": 3.5, "labelPadding": 0, "titlePadding": 1, "domainColor": "#444444", "tickColor": "#444444", "labelFlush": false}},
            "y": {"field": "feature", "type": "nominal",
                  "scale": {"domain": ["Primary ICD-9", "Age", "CKD", "LOS", "Total number of comorbidities", "Dislypidemia", "District", "Surgery type", "Primary ICPM", "Sum of 27 other features"], "paddingInner": 0, "paddingOuter": 0.47},
                  "axis": {"title": null, "labels": false, "ticks": false, "domain": false, "grid": true, "gridDash": [1, 4], "gridColor": "#cccccc", "gridWidth": 0.8}}
          }
        }
      ]
    }
  ]
}
